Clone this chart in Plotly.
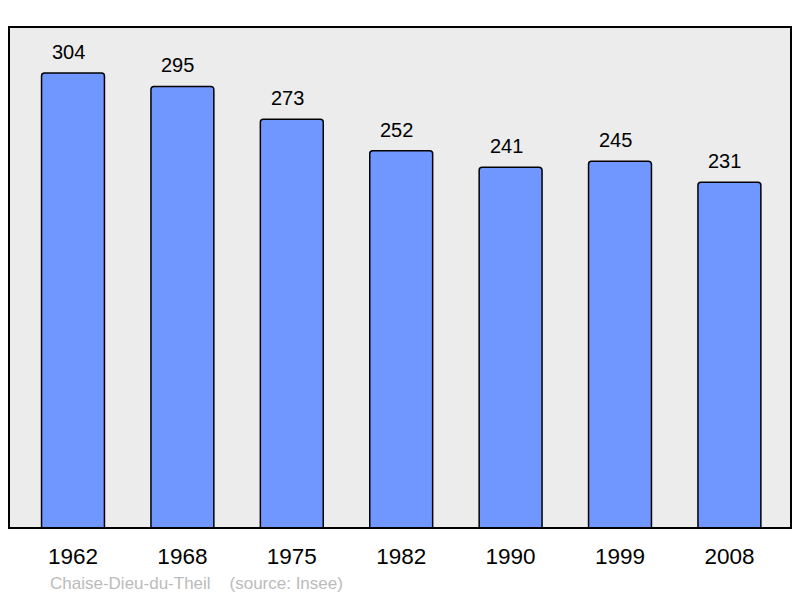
import plotly.graph_objects as go

years = ["1962", "1968", "1975", "1982", "1990", "1999", "2008"]
population = [304, 295, 273, 252, 241, 245, 231]

xs = list(range(len(years)))

fig = go.Figure()
fig.add_trace(go.Bar(
    x=xs, y=population, width=0.575,
    marker=dict(color="#7097ff", line=dict(color="#000000", width=1.5), cornerradius=3),
    hoverinfo="skip",
))

for xi, v in zip(xs, population):
    fig.add_annotation(x=xi, y=v, text=str(v), showarrow=False, yanchor="bottom",
                       yshift=8, xshift=-4.5, font=dict(size=20, color="#000000"))

fig.add_annotation(xref="paper", yref="paper", x=39/782, y=0, xanchor="left", yanchor="top",
                   yshift=-44, text="Chaise-Dieu-du-Theil&nbsp;&nbsp;&nbsp;&nbsp;(source: Insee)",
                   showarrow=False, font=dict(size=17, color="#bbbbbb"))

fig.add_shape(type="rect", xref="paper", yref="paper", x0=0, x1=1, y0=0, y1=1,
              line=dict(color="#000000", width=2), layer="above")

fig.update_layout(
    width=800, height=598,
    margin=dict(l=9, r=9, t=27, b=70),
    paper_bgcolor="#ffffff", plot_bgcolor="#ececec",
    font=dict(family="Liberation Sans, Arial, sans-serif", color="#000000"),
    showlegend=False,
    xaxis=dict(tickmode="array", tickvals=xs, ticktext=years, range=[-0.585, 6.563],
               showgrid=False, zeroline=False, showline=False, ticks="",
               tickfont=dict(size=22.5), ticklabelstandoff=12, fixedrange=True),
    yaxis=dict(range=[0, 334.7], showgrid=False, zeroline=False, showticklabels=False,
               ticks="", showline=False, fixedrange=True),
)

fig.write_html("out.html", config={"displayModeBar": False},
               post_script="document.body.style.margin='0';")
